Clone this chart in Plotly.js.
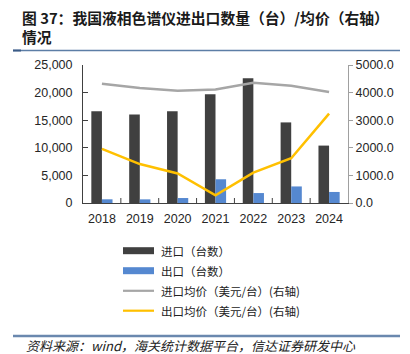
<!DOCTYPE html>
<html>
<head>
<meta charset="utf-8">
<script src="https://cdn.plot.ly/plotly-3.0.1.min.js"></script>
<style>html,body{margin:0;padding:0;background:#fff;}#chart{width:410px;height:354px;}</style>
</head>
<body>
<div id="chart"></div>
<script>
// ---- data ----
const years = ["2018", "2019", "2020", "2021", "2022", "2023", "2024"];
const importQty = [16600, 16050, 16600, 19700, 22600, 14600, 10400];
const exportQty = [670, 660, 900, 4300, 1800, 3000, 2000];
const importPrice = [4320, 4170, 4070, 4110, 4360, 4250, 4020];
const exportPrice = [1960, 1410, 1070, 280, 1100, 1620, 3240];
const seriesNames = ["进口（台数）", "出口（台数）", "进口均价（美元/台）(右轴)", "出口均价（美元/台）(右轴)"];
const titleText = "图 37：我国液相色谱仪进出口数量（台）/均价（右轴）<br>情况";
const sourceText = "资料来源：wind，海关统计数据平台，信达证券研发中心";

// ---- layout geometry (pixels) ----
const W = 410, H = 354;
const L = 83, R = 348, T = 65, B = 203;
const px = x => (x - L) / (R - L);
const py = y => (B - y) / (B - T);

const cjk = '"Noto Sans CJK SC", "Noto Sans", sans-serif';
const latin = '"Liberation Sans", Arial, sans-serif';

const colors = ["#404040", "#5588D0", "#A6A6A6", "#FFC000"];

const traces = [
  {type: "bar", x: years, y: importQty, name: seriesNames[0], marker: {color: colors[0]}, yaxis: "y", hoverinfo: "skip"},
  {type: "bar", x: years, y: exportQty, name: seriesNames[1], marker: {color: colors[1]}, yaxis: "y", hoverinfo: "skip"},
  {type: "scatter", mode: "lines", x: years, y: importPrice, name: seriesNames[2], line: {color: colors[2], width: 2.5}, yaxis: "y2"},
  {type: "scatter", mode: "lines", x: years, y: exportPrice, name: seriesNames[3], line: {color: colors[3], width: 2.5}, yaxis: "y2"}
];

// manual legend
const legY = [250.7, 270.7, 290.8, 310.7];
const shapes = [
  {type: "line", xref: "paper", yref: "paper", x0: px(13), x1: px(400), y0: py(50.5), y1: py(50.5), line: {color: "#5D7EA6", width: 1.5}},
  {type: "line", xref: "paper", yref: "paper", x0: px(13), x1: px(21), y0: py(50.5), y1: py(50.5), line: {color: "#3B5B86", width: 2}},
  {type: "line", xref: "paper", yref: "paper", x0: px(13), x1: px(400), y0: py(336), y1: py(336), line: {color: "#6A88AE", width: 2.5}}
];
const annotations = [];
seriesNames.forEach((n, i) => {
  if (i < 2) {
    shapes.push({type: "rect", xref: "paper", yref: "paper", x0: px(123), x1: px(154), y0: py(legY[i] + 3.5), y1: py(legY[i] - 3.5), fillcolor: colors[i], line: {width: 0}});
  } else {
    shapes.push({type: "line", xref: "paper", yref: "paper", x0: px(123), x1: px(154), y0: py(legY[i]), y1: py(legY[i]), line: {color: colors[i], width: 2.2}});
  }
  annotations.push({xref: "paper", yref: "paper", x: px(159), y: py(legY[i]), xanchor: "left", yanchor: "middle", text: n, showarrow: false, font: {family: cjk, size: 11.5, color: "#222"}});
});
annotations.push({xref: "paper", yref: "paper", x: px(24), y: py(345.5), xanchor: "left", yanchor: "middle", text: "<i>" + sourceText + "</i>", showarrow: false, font: {family: cjk, size: 13, color: "#222"}});
// title (two lines)
annotations.push({xref: "paper", yref: "paper", x: px(20), y: py(27), xanchor: "left", yanchor: "middle", align: "left", text: "<b>" + titleText + "</b>", showarrow: false,
                  font: {family: cjk, size: 14.8, color: "#1a1a1a"}});

const layout = {
  width: W, height: H,
  margin: {l: L, r: W - R, t: T, b: H - B, pad: 0},
  paper_bgcolor: "#fff", plot_bgcolor: "#fff",
  showlegend: false,
  barmode: "group", bargap: 0.44, bargroupgap: 0,
  xaxis: {type: "category", showline: true, linecolor: "#404040", linewidth: 1, showgrid: false, zeroline: false,
          ticks: "", tickfont: {family: latin, size: 12.5, color: "#262626"}, ticklabelstandoff: 4},
  yaxis: {range: [0, 25000], tickvals: [0, 5000, 10000, 15000, 20000, 25000], tickformat: ",", showgrid: false, zeroline: false,
          showline: true, linecolor: "#404040", linewidth: 1, ticks: "inside", ticklen: 5, tickcolor: "#404040",
          tickfont: {family: latin, size: 12.5, color: "#262626"}, ticklabelstandoff: 7},
  yaxis2: {overlaying: "y", side: "right", range: [0, 5000], tickvals: [0, 1000, 2000, 3000, 4000, 5000], tickformat: ".1f",
           showgrid: false, zeroline: false, showline: true, linecolor: "#A0A0A0", linewidth: 1, ticks: "outside", ticklen: 4, tickcolor: "#A0A0A0",
           tickfont: {family: latin, size: 12.5, color: "#262626"}},
  shapes: shapes,
  annotations: annotations
};

// inner category separator ticks on x axis
years.slice(0, -1).forEach((y, i) => {
  shapes.push({type: "line", xref: "paper", yref: "paper", x0: (i + 1) / years.length, x1: (i + 1) / years.length, y0: 0, y1: py(B - 5), line: {color: "#404040", width: 1}});
});

Plotly.newPlot("chart", traces, layout, {staticPlot: true, displayModeBar: false});
</script>
</body>
</html>
